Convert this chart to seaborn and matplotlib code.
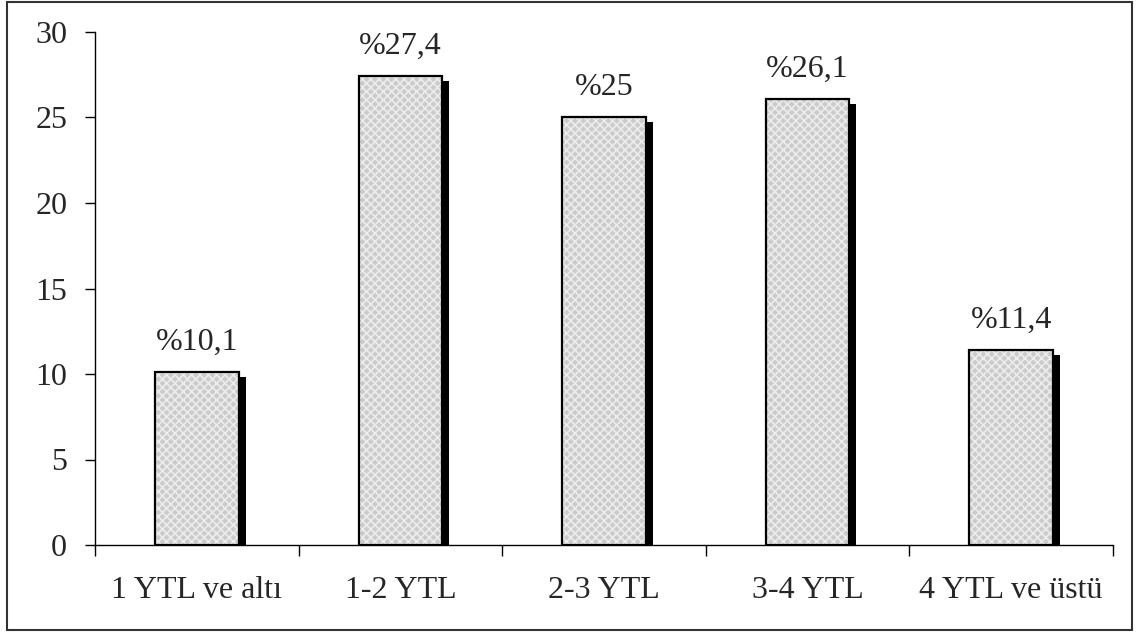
import matplotlib
matplotlib.use("Agg")
import matplotlib.pyplot as plt
import matplotlib.transforms as mtransforms
from matplotlib.patches import Rectangle
import seaborn as sns
import pandas as pd

categories = ["1 YTL ve altı", "1-2 YTL", "2-3 YTL", "3-4 YTL", "4 YTL ve üstü"]
values = [10.1, 27.4, 25.0, 26.1, 11.4]
value_labels = ["%10,1", "%27,4", "%25", "%26,1", "%11,4"]
y_ticks = [0, 5, 10, 15, 20, 25, 30]

sns.set_style("white")
plt.rcParams["font.family"] = ["Liberation Serif", "DejaVu Serif"]
plt.rcParams["hatch.linewidth"] = 1.2

df = pd.DataFrame({"kategori": categories, "deger": values})

fig = plt.figure(figsize=(11.41, 6.34), dpi=100)
ax = fig.add_axes([95 / 1141, 1 - 545 / 634, (1113 - 95) / 1141, (545 - 32) / 634])

# drop shadow: black bars shifted right and down
sns.barplot(data=df, x="kategori", y="deger", color="black", width=0.41,
            saturation=1, ax=ax, edgecolor="none", linewidth=0)
shadow_patches = list(ax.patches)
shift = mtransforms.ScaledTranslation(7 / 100, -5 / 100, fig.dpi_scale_trans)
for p in shadow_patches:
    p.set_transform(ax.transData + shift)

# main bars
sns.barplot(data=df, x="kategori", y="deger", color="#cbcbcb", width=0.41,
            saturation=1, ax=ax, edgecolor="none", linewidth=0)
main_patches = [p for p in ax.patches if p not in shadow_patches]
for p in main_patches:
    # light cross-hatch texture on top of the grey fill
    ax.add_patch(Rectangle(p.get_xy(), p.get_width(), p.get_height(),
                           fill=False, hatch="xxxx", edgecolor="#ececec",
                           linewidth=0, zorder=p.get_zorder() + 0.1))
    ax.add_patch(Rectangle(p.get_xy(), p.get_width(), p.get_height(),
                           fill=False, edgecolor="black", linewidth=1.6,
                           zorder=p.get_zorder() + 0.2))

for p, lab in zip(main_patches, value_labels):
    ax.annotate(lab, (p.get_x() + p.get_width() / 2, p.get_height()),
                xytext=(0, 11), textcoords="offset points",
                ha="center", va="bottom", fontsize=23)

ax.set_ylim(0, 30)
ax.set_xlim(-0.5, len(categories) - 0.5)
ax.set_yticks(y_ticks)
ax.set_yticklabels([str(t) for t in y_ticks], fontsize=23)

# category labels centred, ticks at the category boundaries
ax.set_xticks(range(len(categories)))
ax.set_xticklabels(categories, fontsize=23)
ax.tick_params(axis="x", which="major", length=0, pad=22, bottom=True)
ax.set_xticks([i - 0.5 for i in range(len(categories) + 1)], minor=True)
ax.tick_params(axis="x", which="minor", length=8, width=1, color="black",
               direction="out", bottom=True)
ax.tick_params(axis="y", length=7, width=1, color="black", direction="out",
               pad=13, left=True)

ax.set_xlabel("")
ax.set_ylabel("")
for side in ["top", "right"]:
    ax.spines[side].set_visible(False)
for side in ["left", "bottom"]:
    ax.spines[side].set_color("black")
    ax.spines[side].set_linewidth(1)

# outer frame around the whole figure
fig.patches.append(Rectangle((7 / 1141, 1 - 630 / 634), (1132 - 7) / 1141,
                             (630 - 2) / 634, transform=fig.transFigure,
                             fill=False, edgecolor="#333333", linewidth=1.5))

fig.savefig("out.png", dpi=100)
